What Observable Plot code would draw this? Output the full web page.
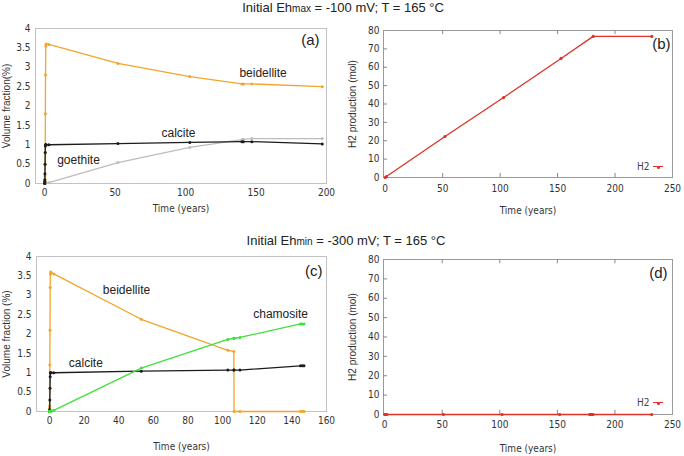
<!DOCTYPE html>
<html>
<head>
<meta charset="utf-8">
<script src="https://cdn.jsdelivr.net/npm/d3@7"></script>
<script src="https://cdn.jsdelivr.net/npm/@observablehq/plot@0.6"></script>
<style>
  html, body { margin: 0; padding: 0; background: #fff; }
  #root { position: relative; width: 684px; height: 456px; overflow: hidden; font-family: Arial, "Liberation Sans", sans-serif; }
  .panel { position: absolute; }
  .title { position: absolute; font-size: 13px; line-height: 15px; color: #222; white-space: nowrap; transform: translateX(-50%); }
  .title .sub { font-size: 10px; }
  .panel svg text { font-stretch: condensed; }
  .panel svg g[aria-label="y-axis label"] text { font-family: Arial, "Liberation Sans", sans-serif; font-size: 10px; fill: #333; font-stretch: normal; }
  .panel svg g[aria-label="x-axis label"] text { font-size: 10px; fill: #333; }
  .legend-line { position: absolute; height: 0; border-top: 1.5px solid #e0302a; width: 10px; }
  .legend-dot { position: absolute; width: 3px; height: 3px; border-radius: 50%; background: #e0302a; }
  .legend-text { position: absolute; font-family: "Liberation Sans Narrow", "Arial Narrow", "DejaVu Sans Condensed", sans-serif; font-stretch: condensed; font-size: 10px; color: #444; line-height: 12px; }
</style>
</head>
<body>
<div id="root"></div>
<script>
// ---------- data ----------
const timesA = [0, 0.05, 0.1, 0.15, 0.2, 0.3, 0.4, 0.5, 0.6, 0.8, 1, 3, 52, 103, 140, 141, 147, 197];
const beidelliteA = [0, 0.02, 0.05, 0.1, 0.2, 0.5, 0.8, 1.8, 2.8, 3.55, 3.6, 3.59, 3.1, 2.76, 2.57, 2.57, 2.57, 2.5];
const calciteA = [0, 0.02, 0.05, 0.1, 0.25, 0.5, 0.8, 0.97, 1.0, 1.0, 1.0, 1.0, 1.03, 1.06, 1.08, 1.08, 1.08, 1.02];
const goethiteA = [0, 0, 0, 0, 0, 0, 0, 0, 0.01, 0.01, 0.01, 0.02, 0.54, 0.93, 1.13, 1.14, 1.16, 1.16];

const timesC = [0, 0.05, 0.1, 0.2, 0.3, 0.4, 0.5, 0.7, 1, 2.5, 53, 103, 106.5, 106.6, 110, 145, 146, 147];
const beidelliteC = [0, 0.1, 0.15, 1.2, 2.1, 3.2, 3.55, 3.6, 3.58, 3.55, 2.38, 1.58, 1.55, 0, 0, 0, 0, 0];
const calciteC = [0, 0, 0.05, 0.3, 0.6, 0.9, 1.0, 1.0, 1.0, 1.0, 1.04, 1.07, 1.07, 1.07, 1.07, 1.18, 1.18, 1.18];
const chamositeC = [0, 0, 0, 0, 0, 0, 0, 0.01, 0.01, 0.03, 1.12, 1.86, 1.89, 1.89, 1.91, 2.26, 2.26, 2.26];

const timesB = [0, 1, 52, 103, 153, 181, 232];
const h2B = [0, 0.5, 22.3, 43.5, 64.8, 76.8, 76.8];

const timesD = [0, 1, 2, 51, 102, 152, 178, 179, 180, 181, 232];
const h2D = [0, 0, 0, 0, 0, 0, 0, 0, 0, 0, 0];

const volTicks = [0, 0.5, 1, 1.5, 2, 2.5, 3, 3.5, 4];
const xTicksA = [0, 50, 100, 150, 200];
const xTicksC = [0, 20, 40, 60, 80, 100, 120, 140, 160];
const h2XTicks = [0, 50, 100, 150, 200, 250];
const h2YTicks = [0, 10, 20, 30, 40, 50, 60, 70, 80];

const titleTop = ["Initial Eh", "max", " = -100 mV; T = 165 °C"];
const titleBottom = ["Initial Eh", "min", " = -300 mV; T = 165 °C"];

// ---------- styles ----------
const COLORS = { beidellite: "#f2a52a", calcite: "#1c1c1c", goethite: "#bdbdbd", chamosite: "#3fe03a", h2: "#e0302a" };
const NARROW = '"Liberation Sans Narrow", "Arial Narrow", "DejaVu Sans Condensed", sans-serif';
const SANS = 'Arial, "Liberation Sans", sans-serif';

const rows = (times, values) => times.map((t, i) => ({ t, v: values[i] }));
const root = document.getElementById("root");

function place(node, left, top) {
  const d = document.createElement("div");
  d.className = "panel";
  d.style.left = left + "px";
  d.style.top = top + "px";
  d.appendChild(node);
  root.appendChild(d);
}

function volumePanel(o) {
  const marks = [Plot.frame({ stroke: "#c2c2c2" })];
  for (const s of o.series) {
    const data = rows(o.times, s.values);
    marks.push(Plot.line(data, { x: "t", y: "v", stroke: s.color, strokeWidth: 1.3 }));
    marks.push(Plot.dot(data, { x: "t", y: "v", fill: s.color, r: 1.5 }));
  }
  for (const a of o.annotations) {
    marks.push(Plot.text([a.text], { x: () => a.x, y: () => a.y, fontFamily: SANS, fontSize: 12, fill: "#222" }));
  }
  marks.push(Plot.text([o.tag], { frameAnchor: "top-right", dx: o.tagDx, dy: o.tagDy, textAnchor: "end", lineAnchor: "top", fontFamily: SANS, fontSize: 15, fill: "#222" }));
  return Plot.plot({
    width: 342, height: 228,
    marginLeft: o.ml, marginRight: o.mr, marginTop: o.mt, marginBottom: o.mb,
    style: { fontFamily: NARROW, fontSize: "10px", color: "#333", background: "transparent", overflow: "visible" },
    x: { domain: o.xDomain, ticks: o.xTicks, tickSize: 0, tickPadding: 5, label: "Time (years)", labelArrow: "none", labelAnchor: "center", labelOffset: o.xLabelOffset },
    y: { domain: [0, 4], ticks: volTicks, tickSize: 0, tickPadding: 5, tickFormat: d => String(d), label: o.yLabel, labelArrow: "none", labelAnchor: "center", labelOffset: o.yLabelOffset },
    marks
  });
}

function h2Panel(o) {
  const data = rows(o.times, o.values);
  const [x0] = o.xDomain;
  const marks = [
    Plot.frame({ stroke: "#9a9a9a" }),
    Plot.ruleX(h2XTicks.slice(1, -1), { y1: 0, y2: 2.2, stroke: "#888" }),
    Plot.ruleX(h2XTicks.slice(1, -1), { y1: 80, y2: 77.8, stroke: "#888" }),
    Plot.ruleY(h2YTicks.slice(1, -1), { x1: x0, x2: x0 + 3.5, stroke: "#888" }),
    Plot.line(data, { x: "t", y: "v", stroke: COLORS.h2, strokeWidth: o.sw }),
    Plot.dot(data, { x: "t", y: "v", fill: COLORS.h2, r: 1.6 }),
    Plot.text([o.tag], { frameAnchor: "top-right", dx: o.tagDx, dy: o.tagDy, textAnchor: "end", lineAnchor: "top", fontFamily: SANS, fontSize: 15, fill: "#222" })
  ];
  return Plot.plot({
    width: 342, height: 228,
    marginLeft: o.ml, marginRight: o.mr, marginTop: o.mt, marginBottom: o.mb,
    style: { fontFamily: NARROW, fontSize: "10px", color: "#333", background: "transparent", overflow: "visible" },
    x: { domain: o.xDomain, ticks: h2XTicks, tickSize: 0, tickPadding: o.xPad, label: "Time (years)", labelArrow: "none", labelAnchor: "center", labelOffset: o.xLabelOffset },
    y: { domain: [0, 80], ticks: h2YTicks, tickSize: 0, tickPadding: 4, label: "H2 production (mol)", labelArrow: "none", labelAnchor: "center", labelOffset: 35 },
    marks
  });
}

function title(parts, cx, top) {
  const d = document.createElement("div");
  d.className = "title";
  d.style.left = cx + "px";
  d.style.top = top + "px";
  d.append(parts[0]);
  const s = document.createElement("span");
  s.className = "sub";
  s.textContent = parts[1];
  d.append(s);
  d.append(parts[2]);
  root.appendChild(d);
}

function legend(textRight, cy) {
  const t = document.createElement("div");
  t.className = "legend-text";
  t.textContent = "H2";
  t.style.left = (textRight - 11) + "px";
  t.style.top = (cy - 6) + "px";
  root.appendChild(t);
  const l = document.createElement("div");
  l.className = "legend-line";
  l.style.left = (textRight + 5) + "px";
  l.style.top = (cy - 0.75) + "px";
  root.appendChild(l);
  const dt = document.createElement("div");
  dt.className = "legend-dot";
  dt.style.left = (textRight + 8.5) + "px";
  dt.style.top = (cy - 1.5) + "px";
  root.appendChild(dt);
}

// ---------- panels ----------
place(volumePanel({
  times: timesA,
  series: [
    { values: goethiteA, color: COLORS.goethite },
    { values: beidelliteA, color: COLORS.beidellite },
    { values: calciteA, color: COLORS.calcite }
  ],
  annotations: [
    { text: "beidellite", x: 155, y: 2.86 },
    { text: "calcite", x: 95, y: 1.29 },
    { text: "goethite", x: 24, y: 0.59 }
  ],
  tag: "(a)", tagDx: -7, tagDy: 6,
  xDomain: [-6.5, 200], xTicks: xTicksA,
  yLabel: "Volume fraction(%)",
  ml: 35, mr: 16, mt: 28, mb: 45,
  xLabelOffset: 28, yLabelOffset: 33
}), 0, 0);

place(h2Panel({
  times: timesB, values: h2B, sw: 1.3,
  tag: "(b)", tagDx: -2, tagDy: 8,
  xDomain: [-1.5, 250],
  ml: 41, mr: 12, mt: 30, mb: 51,
  xPad: 7, xLabelOffset: 36
}), 342, 0);

place(volumePanel({
  times: timesC,
  series: [
    { values: beidelliteC, color: COLORS.beidellite },
    { values: calciteC, color: COLORS.calcite },
    { values: chamositeC, color: COLORS.chamosite }
  ],
  annotations: [
    { text: "beidellite", x: 44.5, y: 3.14 },
    { text: "chamosite", x: 133.5, y: 2.5 },
    { text: "calcite", x: 21, y: 1.24 }
  ],
  tag: "(c)", tagDx: -4, tagDy: 9,
  xDomain: [-7.5, 160], xTicks: xTicksC,
  yLabel: "Volume fraction (%)",
  ml: 36, mr: 16, mt: 28, mb: 45,
  xLabelOffset: 38, yLabelOffset: 34
}), 0, 228);

place(h2Panel({
  times: timesD, values: h2D, sw: 1.6,
  tag: "(d)", tagDx: -5, tagDy: 8,
  xDomain: [-1, 250],
  ml: 41, mr: 12, mt: 31, mb: 42,
  xPad: 6, xLabelOffset: 37
}), 342, 228);

title(titleTop, 343, 0);
title(titleBottom, 346, 233);
legend(648, 167);
legend(648, 403);
</script>
</body>
</html>
